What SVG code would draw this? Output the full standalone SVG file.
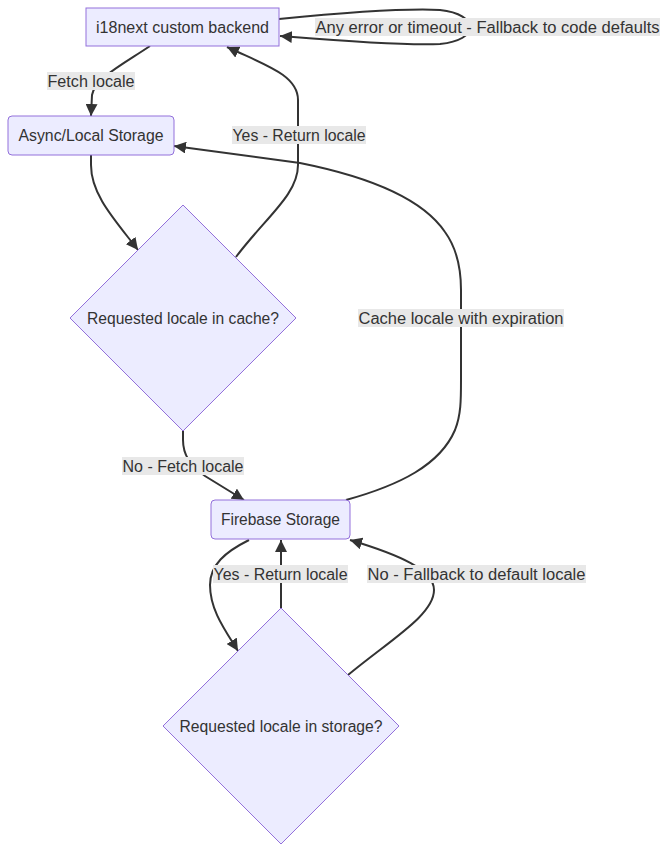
<svg xmlns="http://www.w3.org/2000/svg" width="668" height="853" viewBox="0 0 668 853">
<style>
.node{fill:#ECECFF;stroke:#9370DB;stroke-width:1}
.lbl{font-family:"Liberation Sans",Arial,sans-serif;font-size:16px;fill:#333;text-anchor:middle;dominant-baseline:central}
.edge{fill:none;stroke:#333;stroke-width:2}
.ebg{fill:#e8e8e8}
</style>
<defs>
<marker id="arr" viewBox="0 0 10 10" refX="10" refY="5" markerUnits="userSpaceOnUse" markerWidth="12" markerHeight="12" orient="auto">
<path d="M0,0 L10,5 L0,10 z" fill="#333"/>
</marker>
</defs>
<rect width="668" height="853" fill="#fff"/>
<g id="connectors">
<path class="edge" marker-end="url(#arr)" d="M150,46 C125,63 95,78 92,95 L91,116"/>
<path class="edge" marker-end="url(#arr)" d="M91,155 L91,165 C91,195 115,220 138,250"/>
<path class="edge" marker-end="url(#arr)" d="M236,257 C265,218 298,195 298,165 L298,100 C298,75 265,65 227,47"/>
<path class="edge" marker-end="url(#arr)" d="M183,431 L183,440 C183,455 190,465 205,476 L244,500"/>
<path class="edge" marker-end="url(#arr)" d="M346,500 C400,485 440,465 455,430 C461,415 461,400 461,380 L461,290 C461,270 458,250 445,232 C420,195 360,175 300,163 L174,146"/>
<path class="edge" marker-end="url(#arr)" d="M249,540 C225,552 210,565 210,585 C210,610 225,630 238,651"/>
<path class="edge" marker-end="url(#arr)" d="M281,608 L281,540"/>
<path class="edge" marker-end="url(#arr)" d="M348,675 C390,640 434,615 434,590 C434,570 400,555 350,540"/>
<path class="edge" marker-end="url(#arr)" d="M279,19 C330,14 400,8 440,10 C460,12 470,20 470,27 C470,35 460,42 440,44 C400,46 330,40 280,36"/>
</g>
<g id="edge-labels">
<rect class="ebg" x="47" y="72" width="88" height="18"/>
<text class="lbl" x="91" y="81" textLength="87" lengthAdjust="spacingAndGlyphs">Fetch locale</text>
<rect class="ebg" x="315" y="18" width="345" height="18"/>
<text class="lbl" x="487.5" y="27" textLength="344" lengthAdjust="spacingAndGlyphs">Any error or timeout - Fallback to code defaults</text>
<rect class="ebg" x="232" y="126" width="134" height="18"/>
<text class="lbl" x="299" y="135" textLength="133" lengthAdjust="spacingAndGlyphs">Yes - Return locale</text>
<rect class="ebg" x="358" y="309" width="206" height="18"/>
<text class="lbl" x="461" y="318" textLength="205" lengthAdjust="spacingAndGlyphs">Cache locale with expiration</text>
<rect class="ebg" x="122" y="457" width="122" height="18"/>
<text class="lbl" x="183" y="466" textLength="121" lengthAdjust="spacingAndGlyphs">No - Fetch locale</text>
<rect class="ebg" x="213" y="565" width="135" height="18"/>
<text class="lbl" x="280.5" y="574" textLength="134" lengthAdjust="spacingAndGlyphs">Yes - Return locale</text>
<rect class="ebg" x="367" y="565" width="219" height="18"/>
<text class="lbl" x="476.5" y="574" textLength="218" lengthAdjust="spacingAndGlyphs">No - Fallback to default locale</text>
</g>
<g id="node-backend">
<rect class="node" x="86" y="8" width="193" height="38"/>
<text class="lbl" x="182.5" y="27" textLength="173" lengthAdjust="spacingAndGlyphs">i18next custom backend</text>
</g>
<g id="node-async">
<rect class="node" x="8" y="116" width="166" height="39" rx="4" ry="4"/>
<text class="lbl" x="91" y="135.5" textLength="145" lengthAdjust="spacingAndGlyphs">Async/Local Storage</text>
</g>
<g id="node-cache">
<polygon class="node" points="183,205 296,318 183,431 70,318"/>
<text class="lbl" x="183" y="318" textLength="192" lengthAdjust="spacingAndGlyphs">Requested locale in cache?</text>
</g>
<g id="node-firebase">
<rect class="node" x="211" y="500" width="139" height="39" rx="4" ry="4"/>
<text class="lbl" x="280.5" y="519.5" textLength="119" lengthAdjust="spacingAndGlyphs">Firebase Storage</text>
</g>
<g id="node-storage">
<polygon class="node" points="281,608 399,726 281,844 163,726"/>
<text class="lbl" x="281" y="726" textLength="203" lengthAdjust="spacingAndGlyphs">Requested locale in storage?</text>
</g>
</svg>
